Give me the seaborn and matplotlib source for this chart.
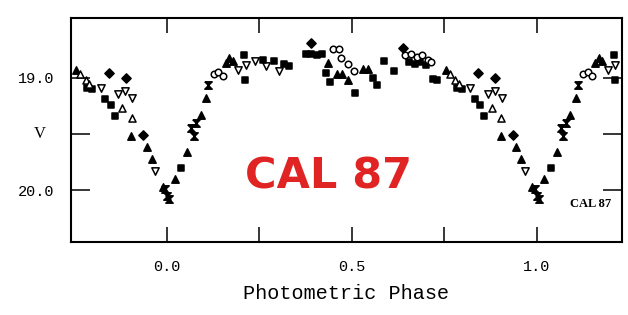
import numpy as np
import pandas as pd
import matplotlib
matplotlib.use('Agg')
import matplotlib.pyplot as plt
import seaborn as sns

# phased light curve of CAL 87 (phase 0..1, repeated when drawn)
tri_phase = [0.021, 0.055, 0.091, 0.105, 0.159, 0.168, 0.178, 0.435, 0.46, 0.474,
             0.49, 0.529, 0.543, 0.754, 0.903, 0.945, 0.958, 0.988]
tri_v = [19.90, 19.66, 19.33, 19.18, 18.87, 18.83, 18.85, 18.87, 18.97, 18.97,
         19.02, 18.92, 18.92, 18.93, 19.52, 19.62, 19.72, 19.97]

inv_phase = [0.192, 0.213, 0.238, 0.267, 0.302, 0.82, 0.868, 0.887, 0.905, 0.967]
inv_v = [18.93, 18.89, 18.85, 18.90, 18.94, 19.09, 19.15, 19.12, 19.18, 19.83]

sq_phase = [0.038, 0.208, 0.212, 0.259, 0.289, 0.315, 0.329, 0.376, 0.39, 0.405,
            0.42, 0.429, 0.442, 0.509, 0.556, 0.569, 0.586, 0.613, 0.655, 0.67,
            0.685, 0.70, 0.72, 0.73, 0.784, 0.798, 0.833, 0.847, 0.858]
sq_v = [19.80, 18.80, 19.02, 18.84, 18.85, 18.88, 18.90, 18.79, 18.79, 18.80,
        18.79, 18.96, 19.04, 19.14, 19.00, 19.07, 18.85, 18.94, 18.86, 18.88,
        18.86, 18.89, 19.01, 19.02, 19.09, 19.10, 19.19, 19.24, 19.34]

circ_phase = [0.126, 0.138, 0.150, 0.45, 0.465, 0.47, 0.49, 0.505, 0.645, 0.66,
              0.675, 0.69, 0.705, 0.715]
circ_v = [18.97, 18.95, 18.99, 18.75, 18.75, 18.83, 18.88, 18.94, 18.80, 18.79,
          18.82, 18.80, 18.84, 18.86]

otri_phase = [0.765, 0.78, 0.79, 0.879, 0.904]
otri_v = [18.97, 19.02, 19.06, 19.27, 19.36]

dia_phase = [0.39, 0.639, 0.842, 0.888, 0.935]
dia_v = [18.69, 18.74, 18.96, 19.00, 19.51]

hg_phase = [0.001, 0.006, 0.995, 0.065, 0.072, 0.078, 0.112]
hg_v = [20.05, 20.08, 19.99, 19.45, 19.52, 19.40, 19.07]


def repeat(phase, v):
    df = pd.DataFrame({'phase': phase, 'V': v})
    df = pd.concat([df.assign(phase=df.phase + s) for s in (-1, 0, 1)])
    return df[(df.phase > -0.265) & (df.phase < 1.235)]


hourglass = [(-1, 1), (1, 1), (-1, -1), (1, -1), (-1, 1)]

fig = plt.figure(figsize=(6.28, 3.15), dpi=100)
ax = fig.add_axes([0.113, 0.232, 0.877, 0.711])

series = [
    (tri_phase, tri_v, '^', 'black', 28),
    (inv_phase, inv_v, 'v', 'white', 28),
    (sq_phase, sq_v, 's', 'black', 22),
    (circ_phase, circ_v, 'o', 'white', 22),
    (otri_phase, otri_v, '^', 'white', 26),
    (dia_phase, dia_v, 'D', 'black', 22),
    (hg_phase, hg_v, hourglass, 'black', 28),
]
for ph, v, m, fc, s in series:
    sns.scatterplot(data=repeat(ph, v), x='phase', y='V', marker=m, color=fc,
                    edgecolor='black', linewidth=1.1, s=s, ax=ax, zorder=3)

ax.set_xlim(-0.26, 1.23)
ax.set_ylim(20.46, 18.47)

ax.set_xticks([0.0, 0.5, 1.0])
ax.set_xticklabels(['0.0', '0.5', '1.0'])
ax.set_xticks([0.25, 0.75], minor=True)
ax.set_yticks([19.0, 19.5, 20.0])
ax.set_yticklabels(['19.0', '', '20.0'])

ax.tick_params(axis='x', which='both', direction='in', top=True, length=11,
               width=1.1, pad=13, labelsize=11)
ax.tick_params(axis='y', direction='in', right=True, length=14, width=1.1,
               pad=12, labelsize=11)
for lab in ax.get_xticklabels() + ax.get_yticklabels():
    lab.set_family('Liberation Mono')
for sp in ax.spines.values():
    sp.set_linewidth(1.5)

ax.set_xlabel('Photometric Phase', family='Liberation Mono', fontsize=14.5, labelpad=7)
ax.set_ylabel('')
ax.text(-0.057, 0.48, 'V', transform=ax.transAxes, ha='center', va='center',
        family='Liberation Serif', fontsize=12)

ax.text(0.468, 0.29, 'CAL 87', transform=ax.transAxes, ha='center', va='center',
        color='#e02424', fontsize=31, fontweight='bold', family='DejaVu Sans')
ax.text(0.98, 0.17, 'CAL 87', transform=ax.transAxes, ha='right', va='center',
        fontsize=9, fontweight='bold', family='Liberation Serif')

fig.savefig('out.png', dpi=100, facecolor='white')
